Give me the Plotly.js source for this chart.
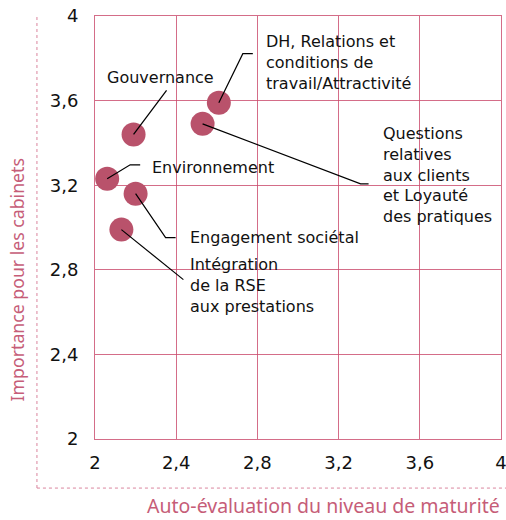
<!DOCTYPE html>
<html><head><meta charset="utf-8">
<script src="https://cdn.plot.ly/plotly-3.0.1.min.js"></script>
<style>html,body{margin:0;padding:0;background:#fff}</style>
</head><body><div id="chart" style="width:506px;height:520px"></div>
<script>
// ---- data ----
const labels = [
  "Gouvernance",
  "DH, Relations et<br>conditions de<br>travail/Attractivité",
  "Questions<br>relatives<br>aux clients<br>et Loyauté<br>des pratiques",
  "Environnement",
  "Engagement sociétal",
  "Intégration<br>de la RSE<br>aux prestations"
];
const maturite   = [2.19, 2.61, 2.53, 2.06, 2.20, 2.13];
const importance = [3.44, 3.59, 3.49, 3.23, 3.16, 2.99];
const tickVals = [2, 2.4, 2.8, 3.2, 3.6, 4];
const tickText = ["2", "2,4", "2,8", "3,2", "3,6", "4"];
const xTitle = "Auto-évaluation du niveau de maturité";
const yTitle = "Importance pour les cabinets";

// ---- label placement (pixel offsets from each point, y up) ----
const leaders = [
  {path: [[0,0],[33,44]],               dx: 27,  dy: 57,  anchor: "center"},
  {path: [[0,0],[24,49],[34,49]],       dx: 45,  dy: 40,  anchor: "left"},
  {path: [[0,0],[158,-60],[166,-60]],   dx: 178, dy: -51, anchor: "left"},
  {path: [[0,0],[23,14],[33,14]],       dx: 43,  dy: 11,  anchor: "left"},
  {path: [[0,0],[30,-44],[40,-44]],     dx: 52,  dy: -44, anchor: "left"},
  {path: [[0,0],[62,-50]],              dx: 67,  dy: -56, anchor: "left"}
];

const rose = "#b9526b";
const grid = "rgba(201,72,106,0.8)";
const titleColor = "#c65d78";
const labelFont = {family: "DejaVu Sans, sans-serif", size: 16, color: "#111"};
const xTitleFont = {family: "Noto Sans, sans-serif", size: 19.5, color: titleColor};
const yTitleFont = {family: "Noto Sans, sans-serif", size: 17.7, color: titleColor};

const shapes = [];
const annotations = [];
labels.forEach((lab, i) => {
  const L = leaders[i];
  shapes.push({
    type: "path", layer: "above",
    xref: "x", yref: "y", xsizemode: "pixel", ysizemode: "pixel",
    xanchor: maturite[i], yanchor: importance[i],
    path: L.path.map((p, k) => (k ? "L" : "M") + p[0] + "," + p[1]).join(" "),
    line: {color: "#000", width: 1.2}
  });
  annotations.push({
    xref: "x", yref: "y", x: maturite[i], y: importance[i],
    xshift: L.dx, yshift: L.dy, text: lab, showarrow: false,
    xanchor: L.anchor, yanchor: "middle", align: L.anchor === "center" ? "center" : "left",
    font: labelFont
  });
});

// dotted frame
const dot = {color: "rgba(214,120,148,0.9)", width: 1, dash: "dot"};
shapes.push({type: "line", xref: "paper", yref: "paper", x0: -0.143, x1: -0.143, y0: 0.9976, y1: -0.116, line: dot, layer: "below"});
shapes.push({type: "line", xref: "paper", yref: "paper", x0: -0.143, x1: 1.013, y0: -0.116, y1: -0.116, line: dot, layer: "below"});

// axis titles
annotations.push({xref: "paper", yref: "paper", x: 1, y: -0.1905, xanchor: "right", yanchor: "bottom",
  borderpad: 0, text: xTitle, showarrow: false, font: xTitleFont});
annotations.push({xref: "paper", yref: "paper", x: -0.192, y: 0.375, xanchor: "center", yanchor: "middle",
  textangle: -90, text: yTitle, showarrow: false, font: yTitleFont});

const trace = {
  type: "scatter", mode: "markers", x: maturite, y: importance, text: labels,
  marker: {size: 24, color: rose, line: {width: 0}}, hoverinfo: "text"
};

const axisCommon = {
  range: [2, 4], tickvals: tickVals, ticktext: tickText,
  showgrid: true, gridcolor: grid, gridwidth: 1, zeroline: false,
  showline: true, mirror: true, linecolor: grid, linewidth: 1,
  ticks: "", ticklabeloverflow: "allow",
  tickfont: {family: "DejaVu Sans, sans-serif", size: 18, color: "#111"}, fixedrange: true
};

const layout = {
  width: 506, height: 520,
  margin: {l: 95, r: 5, t: 16, b: 81},
  paper_bgcolor: "#fff", plot_bgcolor: "#fff",
  separators: ", ",
  showlegend: false,
  xaxis: Object.assign({}, axisCommon, {ticklabelstandoff: 7}),
  yaxis: Object.assign({}, axisCommon, {ticklabelstandoff: 12}),
  shapes: shapes, annotations: annotations
};

Plotly.newPlot("chart", [trace], layout, {displayModeBar: false, staticPlot: true});
</script></body></html>
